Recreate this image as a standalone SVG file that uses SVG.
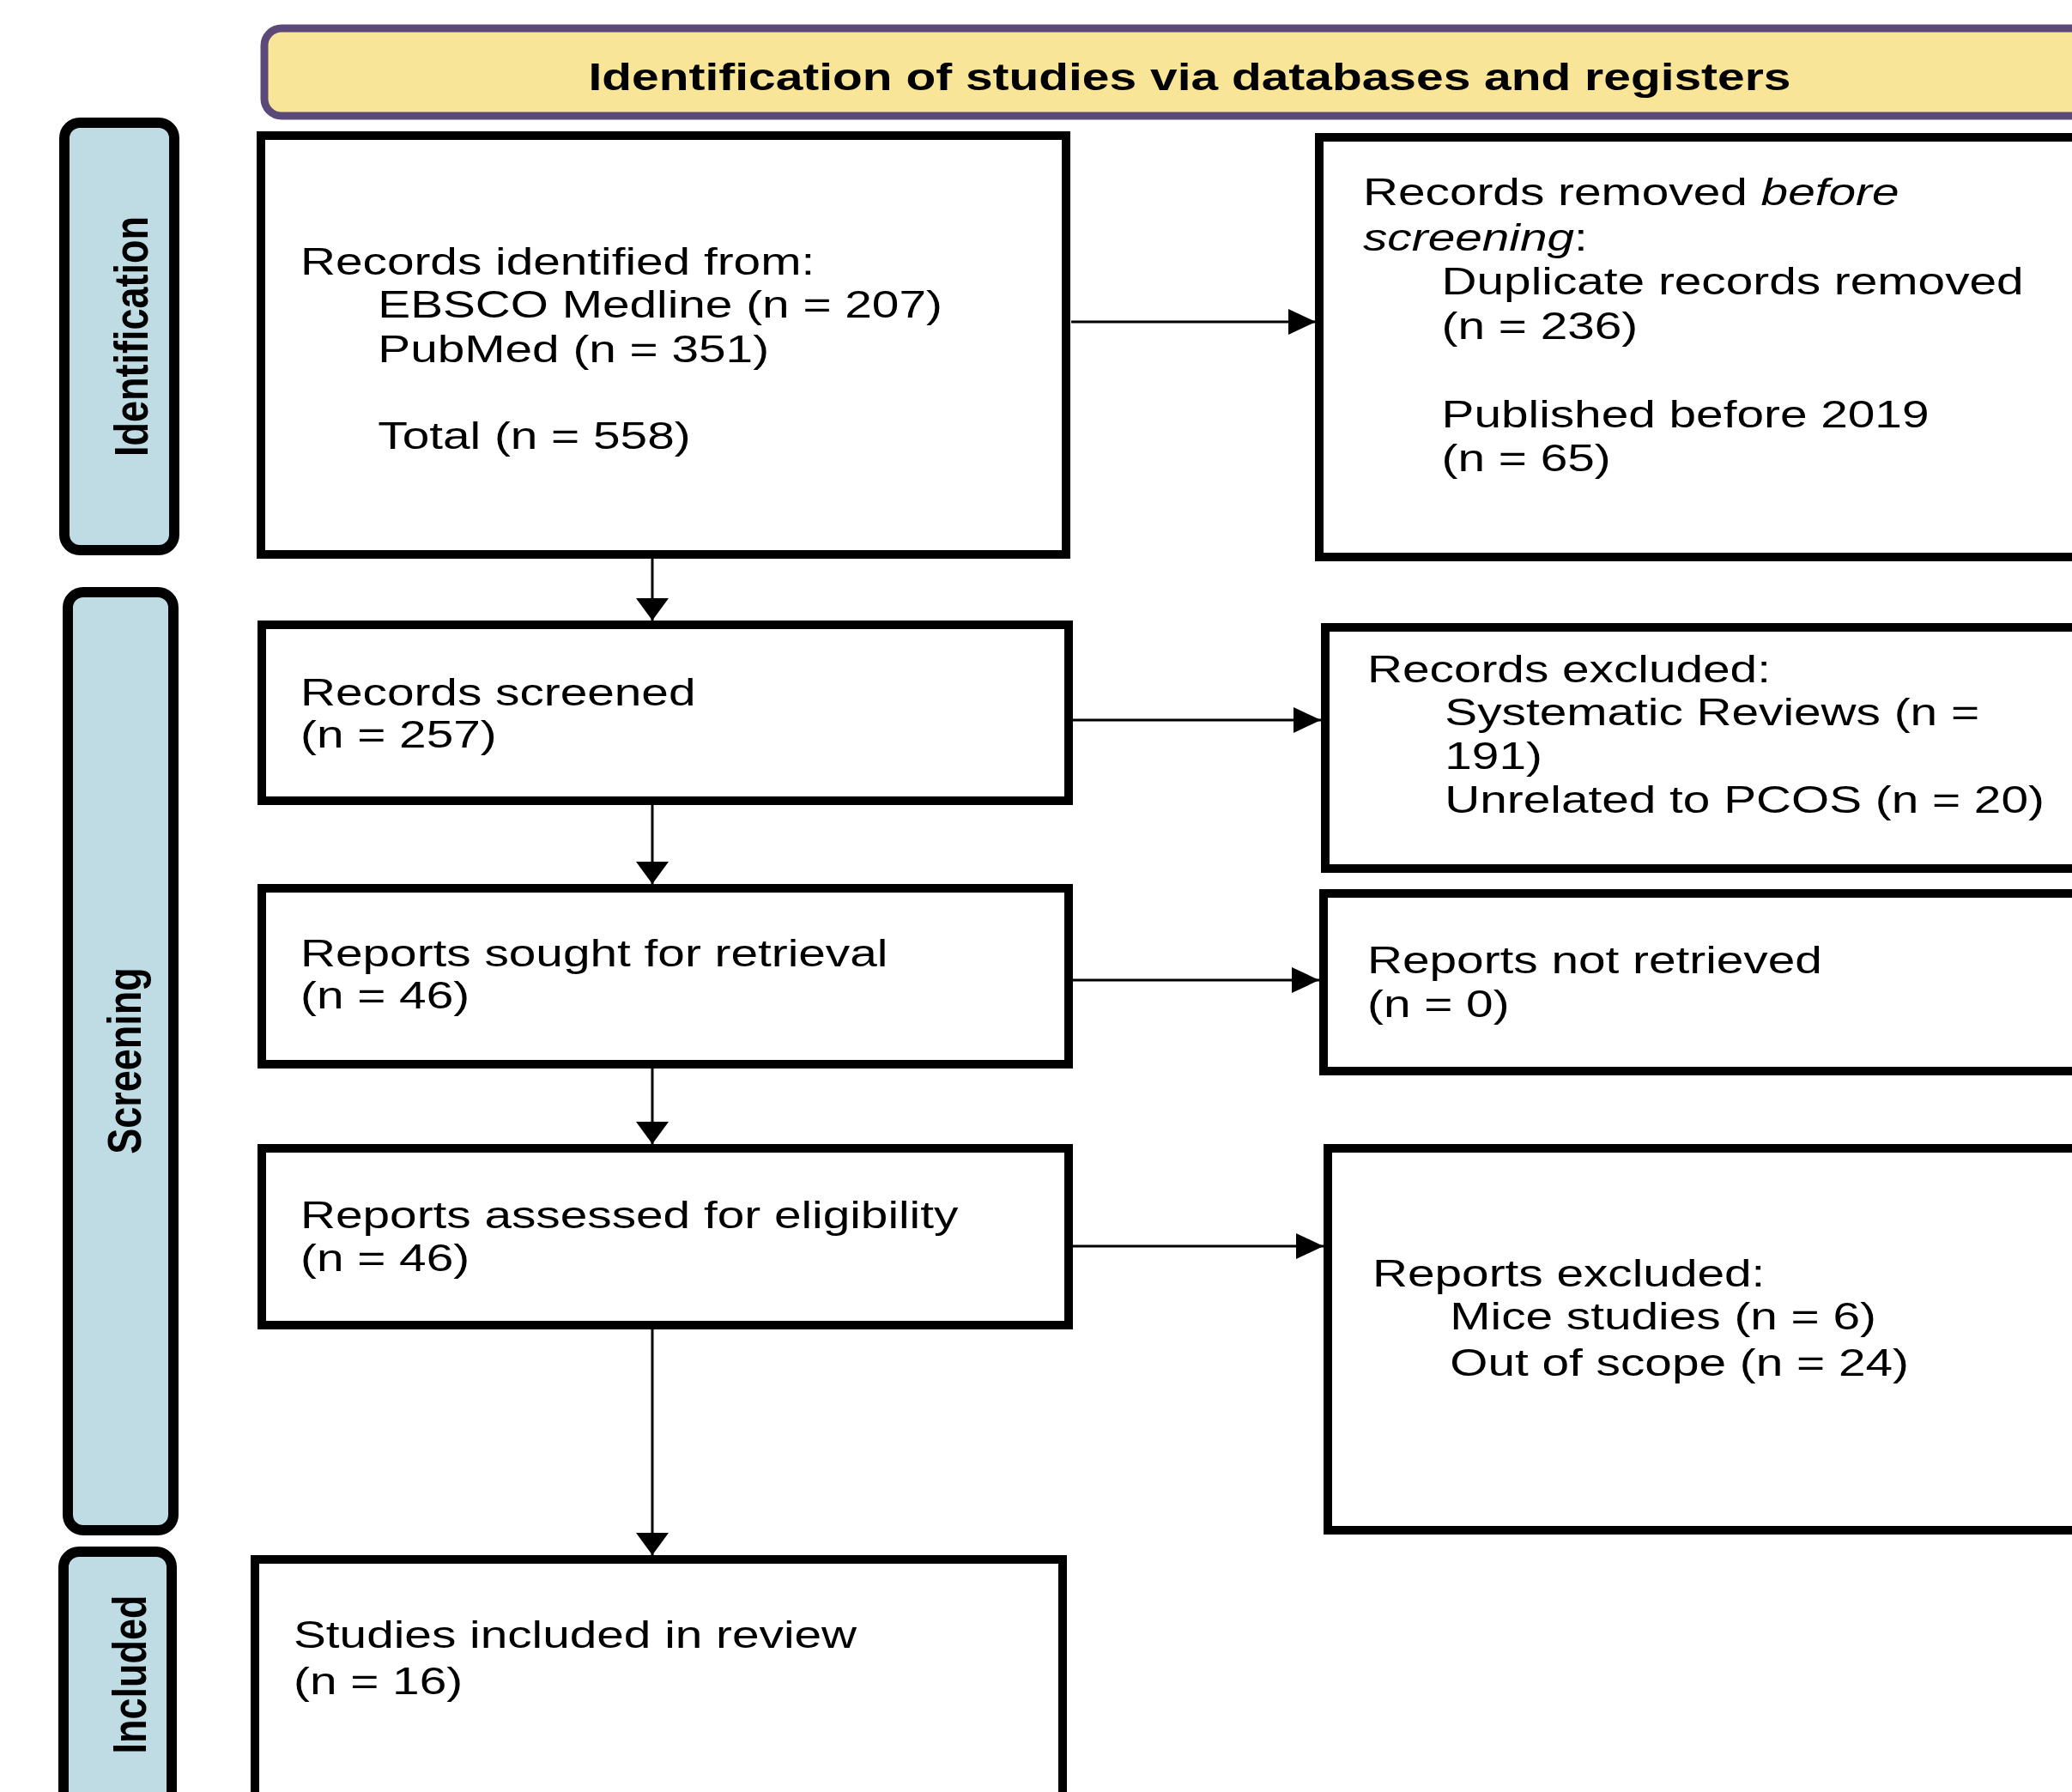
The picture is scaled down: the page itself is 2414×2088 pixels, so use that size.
<svg xmlns="http://www.w3.org/2000/svg" width="2414" height="2088" viewBox="0 0 2414 2088">
<style>
.t{font-family:"Liberation Sans",Arial,Helvetica,sans-serif;font-size:44px;fill:#000}
.b{font-family:"Liberation Sans",Arial,Helvetica,sans-serif;font-weight:bold;font-size:45px;fill:#000}
.box{fill:#fff;stroke:#000;stroke-width:10}
.lab{fill:#bfdce5;stroke:#000;stroke-width:12}
.hdr{fill:#f9e598;stroke:#5b4a78;stroke-width:9}
.con{fill:none;stroke:#000;stroke-width:3}
</style>
<defs>
<marker id="ah" markerUnits="userSpaceOnUse" markerWidth="32" markerHeight="30" refX="32" refY="15" orient="auto">
<path d="M0,0 L32,15 L0,30 z" fill="#000"/>
</marker>
<marker id="av" markerUnits="userSpaceOnUse" markerWidth="26" markerHeight="38" refX="26" refY="19" orient="auto">
<path d="M0,0 L26,19 L0,38 z" fill="#000"/>
</marker>
</defs>
<rect width="2414" height="2088" fill="#fff"/>

<g id="header">
<rect class="hdr" x="308" y="33" width="2160" height="102" rx="20"/>
<text class="b" text-anchor="middle" transform="translate(1386,105) scale(1.265,1)">Identification of studies via databases and registers</text>
</g>

<g id="label-identification">
<rect class="lab" x="75" y="143" width="128" height="498" rx="18"/>
<text class="b" text-anchor="middle" transform="translate(172,392) rotate(-90) scale(1,1.22)">Identification</text>
</g>
<g id="label-screening">
<rect class="lab" x="79" y="690" width="123" height="1093" rx="18"/>
<text class="b" text-anchor="middle" transform="translate(164,1236) rotate(-90) scale(1,1.22)">Screening</text>
</g>
<g id="label-included">
<rect class="lab" x="74" y="1808" width="126" height="320" rx="18"/>
<text class="b" text-anchor="middle" transform="translate(170,1951) rotate(-90) scale(1,1.22)">Included</text>
</g>

<g id="connectors">
<line class="con" x1="1248" y1="375" x2="1533" y2="375" marker-end="url(#ah)"/>
<line class="con" x1="1250" y1="839" x2="1539" y2="839" marker-end="url(#ah)"/>
<line class="con" x1="1250" y1="1142" x2="1537" y2="1142" marker-end="url(#ah)"/>
<line class="con" x1="1250" y1="1452" x2="1542" y2="1452" marker-end="url(#ah)"/>
<line class="con" x1="760" y1="651" x2="760" y2="723" marker-end="url(#av)"/>
<line class="con" x1="760" y1="938" x2="760" y2="1030" marker-end="url(#av)"/>
<line class="con" x1="760" y1="1245" x2="760" y2="1333" marker-end="url(#av)"/>
<line class="con" x1="760" y1="1549" x2="760" y2="1812" marker-end="url(#av)"/>
</g>

<g id="records-identified">
<rect class="box" x="304" y="158" width="938" height="488"/>
<text class="t" transform="translate(350,320) scale(1.29,1)"><tspan x="0" y="0">Records identified from:</tspan><tspan x="70" y="50">EBSCO Medline (n = 207)</tspan><tspan x="70" y="102">PubMed (n = 351)</tspan><tspan x="70" y="203">Total (n = 558)</tspan></text>
</g>

<g id="records-removed">
<rect class="box" x="1537" y="160" width="920" height="489"/>
<text class="t" transform="translate(1588,239) scale(1.29,1)"><tspan x="0" y="0">Records removed <tspan font-style="italic">before</tspan></tspan><tspan x="0" y="53"><tspan font-style="italic">screening</tspan>:</tspan><tspan x="71" y="104">Duplicate records removed</tspan><tspan x="71" y="156">(n = 236)</tspan><tspan x="71" y="259">Published before 2019</tspan><tspan x="71" y="310">(n = 65)</tspan></text>
</g>

<g id="records-screened">
<rect class="box" x="305" y="728" width="940" height="205"/>
<text class="t" transform="translate(350,822) scale(1.29,1)"><tspan x="0" y="0">Records screened</tspan><tspan x="0" y="49">(n = 257)</tspan></text>
</g>

<g id="records-excluded">
<rect class="box" x="1544" y="731" width="920" height="281"/>
<text class="t" transform="translate(1593,795) scale(1.29,1)"><tspan x="0" y="0">Records excluded:</tspan><tspan x="70" y="50">Systematic Reviews (n =</tspan><tspan x="70" y="101">191)</tspan><tspan x="70" y="152">Unrelated to PCOS (n = 20)</tspan></text>
</g>

<g id="reports-sought">
<rect class="box" x="305" y="1035" width="940" height="205"/>
<text class="t" transform="translate(350,1126) scale(1.29,1)"><tspan x="0" y="0">Reports sought for retrieval</tspan><tspan x="0" y="49">(n = 46)</tspan></text>
</g>

<g id="reports-not-retrieved">
<rect class="box" x="1542" y="1041" width="920" height="207"/>
<text class="t" transform="translate(1593,1134) scale(1.29,1)"><tspan x="0" y="0">Reports not retrieved</tspan><tspan x="0" y="51">(n = 0)</tspan></text>
</g>

<g id="reports-assessed">
<rect class="box" x="305" y="1338" width="940" height="206"/>
<text class="t" transform="translate(350,1431) scale(1.29,1)"><tspan x="0" y="0">Reports assessed for eligibility</tspan><tspan x="0" y="50">(n = 46)</tspan></text>
</g>

<g id="reports-excluded">
<rect class="box" x="1547" y="1338" width="920" height="445"/>
<text class="t" transform="translate(1599,1499) scale(1.29,1)"><tspan x="0" y="0">Reports excluded:</tspan><tspan x="70" y="50">Mice studies (n = 6)</tspan><tspan x="70" y="104">Out of scope (n = 24)</tspan></text>
</g>

<g id="studies-included">
<rect class="box" x="297" y="1817" width="941" height="320"/>
<text class="t" transform="translate(342,1920) scale(1.29,1)"><tspan x="0" y="0">Studies included in review</tspan><tspan x="0" y="54">(n = 16)</tspan></text>
</g>
</svg>
